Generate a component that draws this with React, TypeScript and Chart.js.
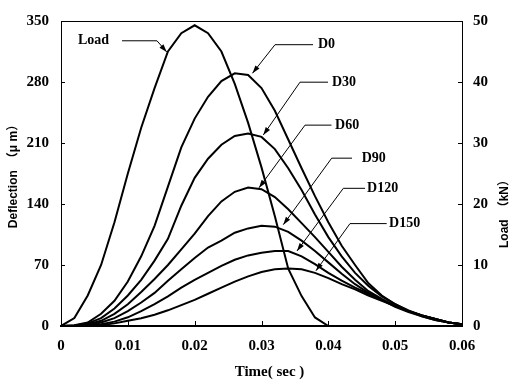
import React, { useEffect, useRef } from 'react';
import { Chart, registerables } from 'chart.js';

Chart.register(...registerables);

// ---- data (time in seconds, deflection in micro-metres, load in kN) ----
const times = [0, 0.002, 0.004, 0.006, 0.008, 0.01, 0.012, 0.014, 0.016, 0.018, 0.02, 0.022, 0.024, 0.026, 0.028, 0.03, 0.032, 0.034, 0.036, 0.038, 0.04, 0.042, 0.044, 0.046, 0.048, 0.05, 0.052, 0.054, 0.056, 0.058, 0.06];

const loadKN = [0, 1.3, 5, 10, 17, 25, 32.5, 39, 45, 48, 49.3, 48, 45, 39.7, 33.3, 26, 18, 9.4, 4.9, 1.4, 0, 0, 0, 0, 0, 0, 0, 0, 0, 0, 0];

const D0 = [0, 1, 4, 14, 29, 51, 80, 115, 160, 205, 238, 263, 281, 290, 288, 273, 247, 214, 181, 149, 119, 92, 70, 49, 35, 25, 17, 11, 7, 4, 2];
const D30 = [0, 0.5, 3, 9, 20, 35, 53, 75, 100, 138, 170, 192, 208, 218, 221, 217, 203, 181, 156, 128, 102, 80, 61, 46, 34, 25, 18, 12, 8, 4, 2];
const D60 = [0, 0.3, 2, 6, 14, 25, 39, 54, 70, 88, 106, 126, 143, 154, 159, 157, 148, 134, 118, 102, 85, 68, 53, 40, 31, 23, 17, 12, 8, 4, 2];
const D90 = [0, 0.2, 1, 4, 9, 17, 27, 38, 52, 65, 78, 90, 98, 107, 112, 115, 114, 108, 98, 86, 73, 60, 48, 38, 30, 22, 16, 11, 7, 4, 2];
const D120 = [0, 0.1, 0.5, 2, 5, 10, 17, 25, 34, 44, 53, 61, 69, 76, 81, 84, 86, 86, 80, 71, 61, 52, 44, 37, 30, 23, 17, 12, 8, 4, 2];
const D150 = [0, 0, 0.3, 1, 3, 6, 9, 13, 18, 24, 30, 37, 44, 51, 57, 62, 65, 66, 65, 61, 55, 48, 42, 35, 29, 23, 17, 12, 8, 4, 2];

const seriesNames = ['D0', 'D30', 'D60', 'D90', 'D120', 'D150'];
const deflections = [D0, D30, D60, D90, D120, D150];

const xTicks = [0, 0.01, 0.02, 0.03, 0.04, 0.05, 0.06];
const xTickLabels = ['0', '0.01', '0.02', '0.03', '0.04', '0.05', '0.06'];
const yTicks = [0, 70, 140, 210, 280, 350];
const yTickLabels = ['0', '70', '140', '210', '280', '350'];
const y2Ticks = [0, 10, 20, 30, 40, 50];
const y2TickLabels = ['0', '10', '20', '30', '40', '50'];

const xTitle = 'Time( sec )';
const yTitle = 'Deflection\u3000\uFF08\u03BC m\uFF09';
const y2Title = 'Load\u3000\uFF08kN\uFF09';

// callout labels, anchored in data units (time, deflection axis)
const callouts = [
  { label: 'Load', textT: 0.00254, textV: 327.3, startT: 0.00913, elbowT: 0.01436, tipT: 0.01582, tipV: 314.5 },
  { label: 'D0', textT: 0.03845, textV: 322.8, startT: 0.03771, elbowT: 0.03202, tipT: 0.02865, tipV: 290 },
  { label: 'D30', textT: 0.04055, textV: 279.8, startT: 0.03995, elbowT: 0.03576, tipT: 0.03027, tipV: 219.2 },
  { label: 'D60', textT: 0.041, textV: 230.5, startT: 0.04047, elbowT: 0.03651, tipT: 0.02963, tipV: 158.6 },
  { label: 'D90', textT: 0.04499, textV: 192.6, startT: 0.04354, elbowT: 0.0405, tipT: 0.03326, tipV: 116.3 },
  { label: 'D120', textT: 0.04579, textV: 158.0, startT: 0.04549, elbowT: 0.04224, tipT: 0.03531, tipV: 86.1 },
  { label: 'D150', textT: 0.04908, textV: 117.5, startT: 0.04873, elbowT: 0.04324, tipT: 0.03815, tipV: 63.4 },
];

const SERIF = '"Liberation Serif", "Times New Roman", serif';
const SANS = '"Liberation Sans", Arial, "Noto Sans CJK JP", sans-serif';

export default function App() {
  const ref = useRef<HTMLCanvasElement>(null);

  useEffect(() => {
    const canvas = ref.current;
    if (!canvas) return;

    const mk = (arr: number[]) => times.map((t, i) => ({ x: t, y: arr[i] }));

    const datasets: any[] = [
      {
        label: 'Load',
        data: mk(loadKN),
        yAxisID: 'y2',
        borderColor: '#000',
        borderWidth: 2,
        pointRadius: 0,
        tension: 0,
        fill: false,
      },
      ...deflections.map((arr, i) => ({
        label: seriesNames[i],
        data: mk(arr),
        yAxisID: 'y',
        borderColor: '#000',
        borderWidth: 2,
        pointRadius: 0,
        tension: 0,
        fill: false,
      })),
    ];

    const decor = {
      id: 'decor',
      afterDraw(chart: any) {
        const { ctx, chartArea, scales } = chart;
        const xs = scales.x;
        const ys = scales.y;
        const y2s = scales.y2;
        ctx.save();
        ctx.strokeStyle = '#000';
        ctx.fillStyle = '#000';

        // top frame line
        ctx.lineWidth = 1;
        ctx.beginPath();
        ctx.moveTo(chartArea.left, chartArea.top + 0.5);
        ctx.lineTo(chartArea.right, chartArea.top + 0.5);
        ctx.stroke();

        // inward tick marks
        ctx.lineWidth = 1;
        ctx.beginPath();
        yTicks.forEach((v) => {
          const py = Math.round(ys.getPixelForValue(v)) + 0.5;
          ctx.moveTo(chartArea.left, py);
          ctx.lineTo(chartArea.left + 4, py);
        });
        y2Ticks.forEach((v) => {
          const py = Math.round(y2s.getPixelForValue(v)) + 0.5;
          ctx.moveTo(chartArea.right, py);
          ctx.lineTo(chartArea.right - 4, py);
        });
        xTicks.forEach((v) => {
          const px = Math.round(xs.getPixelForValue(v)) + 0.5;
          ctx.moveTo(px, chartArea.bottom);
          ctx.lineTo(px, chartArea.bottom - 5);
        });
        ctx.stroke();

        // callouts
        ctx.font = `bold 14px ${SERIF}`;
        ctx.textBaseline = 'middle';
        ctx.textAlign = 'left';
        callouts.forEach((c) => {
          const ty = ys.getPixelForValue(c.textV);
          const tx = xs.getPixelForValue(c.textT);
          const sx = xs.getPixelForValue(c.startT);
          const ex = xs.getPixelForValue(c.elbowT);
          const px = xs.getPixelForValue(c.tipT);
          const py = ys.getPixelForValue(c.tipV);
          ctx.lineWidth = 1;
          ctx.beginPath();
          ctx.moveTo(sx, ty);
          ctx.lineTo(ex, ty);
          ctx.lineTo(px, py);
          ctx.stroke();
          const ang = Math.atan2(py - ty, px - ex);
          const L = 8;
          const W = 2.6;
          const ca = Math.cos(ang);
          const sa = Math.sin(ang);
          ctx.beginPath();
          ctx.moveTo(px, py);
          ctx.lineTo(px - L * ca + W * sa, py - L * sa - W * ca);
          ctx.lineTo(px - L * ca - W * sa, py - L * sa + W * ca);
          ctx.closePath();
          ctx.fill();
          ctx.fillText(c.label, tx, ty);
        });

        // x title
        ctx.font = `bold 15px ${SERIF}`;
        ctx.textAlign = 'center';
        ctx.textBaseline = 'middle';
        ctx.fillText(xTitle, (chartArea.left + chartArea.right) / 2 + 8, 372);

        // right title (reads bottom to top)
        ctx.font = `bold 12px ${SANS}`;
        ctx.translate(505, 211);
        ctx.rotate(-Math.PI / 2);
        ctx.fillText(y2Title, 0, 0);
        ctx.restore();
      },
    };

    const tickFont = { family: SERIF, size: 15, weight: 'bold' as const };

    const chart = new Chart(canvas, {
      type: 'line',
      data: { datasets },
      options: {
        animation: false,
        responsive: true,
        maintainAspectRatio: false,
        layout: { padding: { top: 17, left: 0, right: 0, bottom: 0 } },
        plugins: { legend: { display: false }, tooltip: { enabled: false } },
        scales: {
          x: {
            type: 'linear',
            min: 0,
            max: 0.06,
            afterBuildTicks: (s: any) => {
              s.ticks = xTicks.map((v) => ({ value: v }));
            },
            afterFit: (s: any) => {
              s.height = 56;
            },
            ticks: {
              callback: (_v: any, i: number) => xTickLabels[i],
              font: tickFont,
              color: '#000',
              padding: 11,
              maxRotation: 0,
              autoSkip: false,
            },
            grid: { display: false, drawTicks: false },
            border: { display: true, color: '#000', width: 2 },
          },
          y: {
            type: 'linear',
            position: 'left',
            min: 0,
            max: 350,
            afterBuildTicks: (s: any) => {
              s.ticks = yTicks.map((v) => ({ value: v }));
            },
            afterFit: (s: any) => {
              s.width = 61;
            },
            ticks: {
              callback: (_v: any, i: number) => yTickLabels[i],
              font: tickFont,
              color: '#000',
              padding: 12,
              autoSkip: false,
            },
            title: {
              display: true,
              text: yTitle,
              font: { family: SANS, size: 12, weight: 'bold' },
              color: '#000',
              padding: { top: 6, bottom: 0 },
            },
            grid: { display: false, drawTicks: false },
            border: { display: true, color: '#000', width: 1 },
          },
          y2: {
            type: 'linear',
            position: 'right',
            min: 0,
            max: 50,
            afterBuildTicks: (s: any) => {
              s.ticks = y2Ticks.map((v) => ({ value: v }));
            },
            afterFit: (s: any) => {
              s.width = 49;
            },
            ticks: {
              callback: (_v: any, i: number) => y2TickLabels[i],
              font: tickFont,
              color: '#000',
              padding: 11,
              autoSkip: false,
            },
            grid: { display: false, drawTicks: false },
            border: { display: true, color: '#000', width: 1 },
          },
        },
      },
      plugins: [decor],
    } as any);

    return () => chart.destroy();
  }, []);

  return (
    <div style={{ position: 'fixed', left: 0, top: 0, width: 511, height: 382, background: '#fff' }}>
      <canvas ref={ref} />
    </div>
  );
}
